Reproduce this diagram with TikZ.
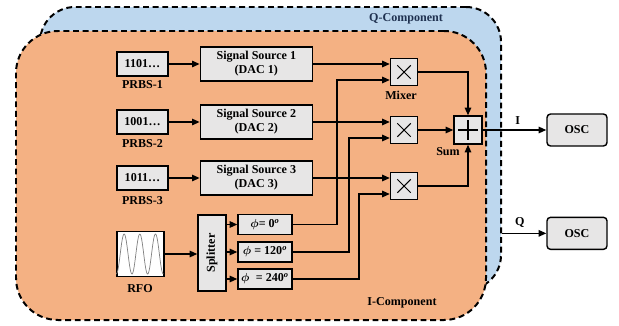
\documentclass[tikz,border=0pt]{standalone}
\usepackage{fontspec}
\setmainfont{Liberation Serif}
\usepackage{amsmath}
\usepackage{graphicx}
\usepackage{xcolor}
\usepackage{tikz}
\usetikzlibrary{
  arrows.meta,
  calc
}
\definecolor{IOrange}{RGB}{244,177,131}
\definecolor{QBlue}{RGB}{189,215,238}
\definecolor{BoxGray}{RGB}{231,230,230}
\definecolor{QText}{RGB}{31,49,80}

\begin{document}
\begin{tikzpicture}[
  font=\fontsize{10.3}{12}\selectfont\bfseries,
  >={Triangle[length=6.5pt,width=5.5pt]},
  blk/.style={
    draw=black,
    fill=BoxGray,
    line width=1.2pt,
    align=center,
    inner sep=0pt
  },
  prbs/.style={blk, minimum width=1.53cm, minimum height=0.72cm},
  src/.style={blk, minimum width=3.36cm, minimum height=1.02cm},
  phs/.style={blk, minimum width=1.62cm, minimum height=0.60cm},
  osc/.style={blk, rounded corners=3pt, minimum width=1.80cm, minimum height=0.96cm},
  mix/.style={blk, minimum size=0.81cm,
    path picture={
      \draw[line width=0.9pt]
        ([shift={(-0.2,-0.2)}]path picture bounding box.center) --
        ([shift={(0.2,0.2)}]path picture bounding box.center)
        ([shift={(-0.2,0.2)}]path picture bounding box.center) --
        ([shift={(0.2,-0.2)}]path picture bounding box.center);
    }},
  sumb/.style={blk, minimum size=0.84cm,
    path picture={
      \draw[line width=1.1pt]
        ([shift={(-0.29,0)}]path picture bounding box.center) --
        ([shift={(0.29,0)}]path picture bounding box.center)
        ([shift={(0,0.29)}]path picture bounding box.center) --
        ([shift={(0,-0.29)}]path picture bounding box.center);
    }},
  comp/.style={draw=black, line width=1.7pt, dash pattern=on 5pt off 3.2pt, inner sep=0pt},
  lbl/.style={inner sep=0pt},
  arr/.style={->, line width=1.2pt},
  wire/.style={line width=1.2pt},
]
  \useasboundingbox (0,0) rectangle (18.57,-9.75);

  % ========== 底层：Q / I 两个分量框 ==========
  \node[comp, fill=QBlue, rounded corners=1.05cm,
    minimum width=13.83cm, minimum height=8.49cm] (qcomp) at (8.115,-4.455) {};
  \node[comp, fill=IOrange, rounded corners=1.26cm,
    minimum width=14.10cm, minimum height=8.67cm] (icomp) at (7.53,-5.265) {};
  \node[lbl, text=QText] (qlab) at (12.18,-0.57) {Q-Component};
  \node[lbl] (ilab) at (12.06,-9.09) {I-Component};

  % ========== PRBS 与信号源 ==========
  \node[prbs] (prbs1) at (4.275,-1.92) {1101\dots};
  \node[prbs] (prbs2) at (4.275,-3.66) {1001\dots};
  \node[prbs] (prbs3) at (4.275,-5.34) {1011\dots};
  \node[lbl] (prbs1l) at (4.275,-2.55) {PRBS-1};
  \node[lbl] (prbs2l) at (4.275,-4.32) {PRBS-2};
  \node[lbl] (prbs3l) at (4.275,-6.03) {PRBS-3};

  \node[src] (ss1) at (7.69,-1.92) {Signal Source 1\\(DAC 1)};
  \node[src] (ss2) at (7.69,-3.66) {Signal Source 2\\(DAC 2)};
  \node[src] (ss3) at (7.69,-5.34) {Signal Source 3\\(DAC 3)};

  % ========== 本振、分路器、移相 ==========
  \node[draw=black, fill=white, line width=1.2pt, inner sep=0pt,
    minimum width=1.41cm, minimum height=1.35cm] (rfo) at (4.215,-7.62) {};
  \draw[gray, line width=0.6pt, shift={(rfo.west)}]
    plot[domain=0:1.41, samples=90] (\x, {-0.6*cos(\x*3*360/1.41)});
  \node[lbl] (rfol) at (4.20,-8.67) {RFO};

  \node[blk, minimum width=0.84cm, minimum height=2.28cm] (split) at (6.36,-7.59)
    {\rotatebox{90}{Splitter}};
  \node[phs] (ph0) at (7.95,-6.735) {$\boldsymbol{\phi}$= 0\textsuperscript{\textit{o}}};
  \node[phs] (ph1) at (7.95,-7.56) {$\boldsymbol{\phi}$ = 120\textsuperscript{\textit{o}}};
  \node[phs] (ph2) at (7.95,-8.37) {$\boldsymbol{\phi}$\; = 240\textsuperscript{\textit{o}}};

  % ========== 混频器、求和、示波器 ==========
  \node[mix] (mx1) at (12.12,-2.16) {};
  \node[mix] (mx2) at (12.12,-3.90) {};
  \node[mix] (mx3) at (12.12,-5.58) {};
  \node[lbl] (mxl) at (12.03,-2.85) {Mixer};
  \node[sumb] (sum) at (14.04,-3.90) {};
  \node[lbl] (suml) at (13.44,-4.56) {Sum};
  \node[osc] (osc1) at (17.31,-3.90) {OSC};
  \node[osc] (osc2) at (17.31,-7.00) {OSC};

  % ========== 连线 ==========
  \draw[arr] (prbs1) -- (ss1);
  \draw[arr] (prbs2) -- (ss2);
  \draw[arr] (prbs3) -- (ss3);
  \draw[arr] (ss1.east) -- (ss1.east-|mx1.west);
  \draw[arr] (ss2.east) -- (ss2.east-|mx2.west);
  \draw[arr] (ss3.east) -- (ss3.east-|mx3.west);

  \draw[arr] (rfo.east) -- (rfo.east-|split.west);
  \draw[arr] (ph0.west-|split.east) -- (ph0.west);
  \draw[arr] (ph1.west-|split.east) -- (ph1.west);
  \draw[arr] (ph2.west-|split.east) -- (ph2.west);

  % 移相输出走竖廊到各混频器下输入
  \coordinate (V0x) at (10.11,0);
  \coordinate (V1x) at (10.47,0);
  \coordinate (V2x) at (10.77,0);
  \coordinate (M1b) at ($(mx1.west)+(0,-0.24)$);
  \coordinate (M2b) at ($(mx2.west)+(0,-0.24)$);
  \coordinate (M3b) at ($(mx3.west)+(0,-0.24)$);
  \draw[arr] (ph0.east) -- (ph0.east-|V0x) -- (M1b-|V0x) -- (M1b);
  \draw[arr] (ph1.east) -- (ph1.east-|V1x) -- (M2b-|V1x) -- (M2b);
  \draw[arr] (ph2.east) -- (ph2.east-|V2x) -- (M3b-|V2x) -- (M3b);

  \draw[arr] (mx1.east) -| (sum.north);
  \draw[arr] (mx2) -- (sum);
  \draw[arr] (mx3.east) -| (sum.south);

  \draw[arr] (sum.east) -- (osc1.west) node[pos=0.55, above=1pt] {I};
  \coordinate (Qo) at (qcomp.east|-osc2.west);
  \draw[arr] (Qo) -- (osc2.west) node[pos=0.4, above=1pt] {Q};

\end{tikzpicture}
\end{document}
